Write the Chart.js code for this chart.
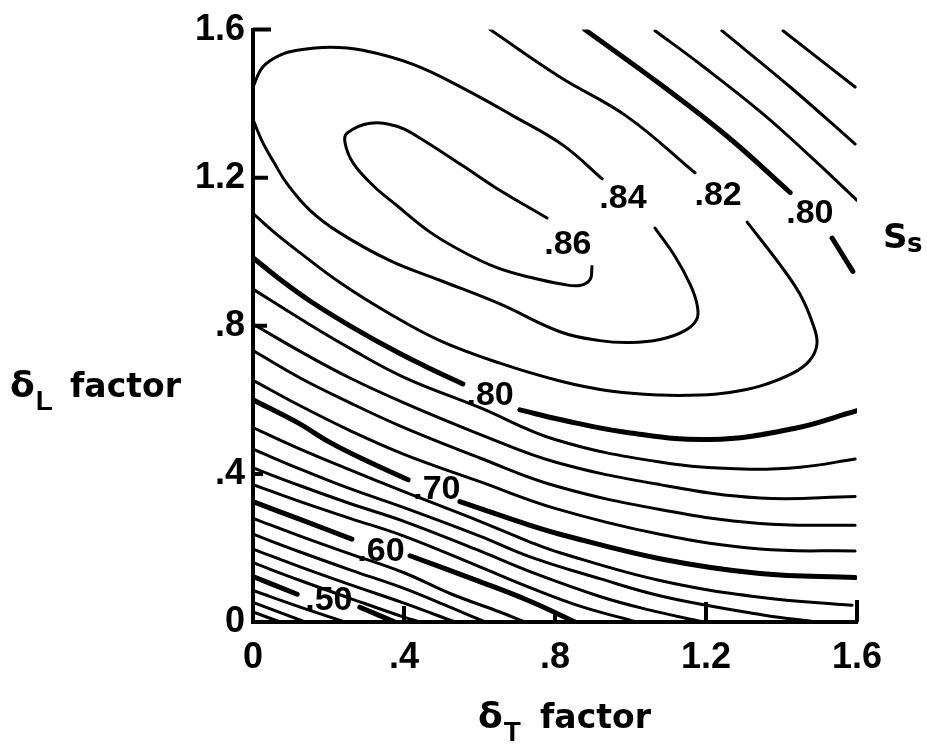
<!DOCTYPE html>
<html>
<head>
<meta charset="utf-8">
<title>Ss contours</title>
<script src="https://cdn.jsdelivr.net/npm/chart.js@4.4.1/dist/chart.umd.min.js"></script>
<style>
  html, body { margin: 0; padding: 0; background: #fff; }
  #wrap { width: 927px; height: 744px; }
</style>
</head>
<body>
<div id="wrap"><canvas id="contourChart" width="927" height="744"></canvas></div>
<script>
// axis ticks
const tickValues = [0, 0.4, 0.8, 1.2, 1.6];
const tickLabels = ["0", ".4", ".8", "1.2", "1.6"];

// contour segments as [deltaT factor, deltaL factor] pairs
const s86 = [[0.779,1.091],[0.646,1.171],[0.556,1.232],[0.434,1.312],[0.381,1.339],[0.310,1.347],[0.249,1.320],[0.244,1.293],[0.265,1.240],[0.318,1.179],[0.381,1.125],[0.469,1.053],[0.556,1.000],[0.646,0.957],[0.734,0.931],[0.821,0.912],[0.866,0.909],[0.893,0.925],[0.898,0.960]];
const s84a = [[0,1.445],[0.026,1.499],[0.072,1.531],[0.117,1.544],[0.204,1.552],[0.291,1.544],[0.424,1.506],[0.556,1.442],[0.689,1.367],[0.821,1.288],[0.925,1.197]];
const s84b = [[0,1.357],[0.024,1.299],[0.058,1.237],[0.090,1.184],[0.151,1.112],[0.230,1.051],[0.363,0.976],[0.495,0.923],[0.654,0.859],[0.813,0.784],[0.919,0.760],[0.999,0.755],[1.078,0.763],[1.144,0.787],[1.176,0.819],[1.176,0.859],[1.158,0.912],[1.118,0.987],[1.065,1.064]];
const s82a = [[0.628,1.600],[0.813,1.472],[0.991,1.365],[1.171,1.213]];
const s82b = [[0,1.104],[0.058,1.051],[0.125,0.997],[0.230,0.917],[0.363,0.832],[0.495,0.760],[0.654,0.699],[0.813,0.651],[0.946,0.624],[1.078,0.613],[1.184,0.613],[1.256,0.619],[1.343,0.637],[1.430,0.672],[1.475,0.707],[1.494,0.752],[1.483,0.805],[1.449,0.885],[1.396,0.965],[1.309,1.080]];
const s80a = [[0.879,1.600],[1.078,1.453],[1.256,1.312],[1.423,1.160]];
const s80b = [[1.534,1.037],[1.589,0.947]];
const s80c = [[0,0.984],[0.072,0.925],[0.151,0.867],[0.257,0.800],[0.389,0.725],[0.495,0.672],[0.556,0.643]];
const s80d = [[0.707,0.573],[0.813,0.547],[0.991,0.512],[1.211,0.493],[1.430,0.522],[1.600,0.571]];
const s78a = [[1.065,1.597],[1.184,1.507],[1.343,1.379],[1.475,1.259],[1.600,1.139]];
const s76a = [[1.242,1.597],[1.423,1.445],[1.595,1.291]];
const s74a = [[1.404,1.597],[1.595,1.445]];
const s78b = [[0,0.899],[0.125,0.819],[0.257,0.739],[0.400,0.661],[0.601,0.579],[0.800,0.493],[1.078,0.432],[1.298,0.413],[1.449,0.418],[1.595,0.440]];
const s76b = [[0,0.805],[0.125,0.731],[0.257,0.659],[0.400,0.592],[0.601,0.507],[0.800,0.432],[1.078,0.371],[1.343,0.335],[1.595,0.339]];
const s74b = [[0,0.733],[0.125,0.659],[0.257,0.592],[0.400,0.525],[0.601,0.443],[0.800,0.368],[1.078,0.304],[1.343,0.266],[1.595,0.261]];
const s72 = [[0,0.653],[0.125,0.584],[0.257,0.517],[0.400,0.453],[0.601,0.379],[0.800,0.307],[1.078,0.237],[1.343,0.197],[1.595,0.192]];
const s70a = [[0,0.600],[0.117,0.539],[0.204,0.485],[0.291,0.440],[0.411,0.384]];
const s70b = [[0.548,0.325],[0.734,0.261],[0.813,0.237],[1.078,0.171],[1.343,0.131],[1.595,0.120]];
const s68 = [[0,0.525],[0.125,0.467],[0.257,0.411],[0.400,0.352],[0.601,0.272],[0.734,0.216],[0.813,0.187],[1.078,0.112],[1.343,0.067],[1.587,0.045]];
const s66 = [[0,0.467],[0.125,0.413],[0.257,0.360],[0.400,0.309],[0.601,0.232],[0.734,0.176],[0.919,0.117],[1.086,0.069],[1.351,0.019],[1.494,0]];
const s64 = [[0,0.416],[0.125,0.368],[0.257,0.320],[0.400,0.272],[0.601,0.192],[0.734,0.136],[0.919,0.069],[1.052,0.032],[1.192,0]];
const s62 = [[0,0.371],[0.125,0.325],[0.257,0.280],[0.400,0.232],[0.601,0.149],[0.734,0.093],[0.866,0.043],[1.017,0]];
const s60a = [[0,0.325],[0.125,0.277],[0.262,0.224]];
const s60b = [[0.416,0.179],[0.601,0.109],[0.734,0.056],[0.853,0]];
const s58 = [[0,0.280],[0.125,0.232],[0.257,0.184],[0.400,0.133],[0.522,0.077],[0.654,0.027],[0.721,0]];
const s56 = [[0,0.237],[0.125,0.189],[0.257,0.141],[0.400,0.091],[0.522,0.040],[0.615,0]];
const s54 = [[0,0.197],[0.125,0.149],[0.257,0.101],[0.400,0.051],[0.535,0]];
const s52 = [[0,0.160],[0.125,0.112],[0.257,0.064],[0.400,0.013],[0.442,0]];
const s50a = [[0,0.123],[0.117,0.075]];
const s50b = [[0.283,0.040],[0.376,0]];
const s48 = [[0,0.085],[0.125,0.040],[0.244,0]];
const s46 = [[0,0.053],[0.138,0]];
const s44 = [[0,0.027],[0.072,0]];

const thinSegments = [s86, s84a, s84b, s82a, s82b, s78a, s76a, s74a, s78b, s76b, s74b, s72, s68, s66, s64, s62, s58, s56, s54, s52, s48, s46, s44];
const thickSegments = [s80a, s80b, s80c, s80d, s70a, s70b, s60a, s60b, s50a, s50b];

// contour labels
const labelText = [".86", ".84", ".82", ".80", ".80", ".70", ".60", ".50"];
const labelX = [0.834, 0.980, 1.232, 1.475, 0.628, 0.487, 0.339, 0.201];
const labelY = [1.019, 1.144, 1.152, 1.104, 0.611, 0.357, 0.189, 0.059];

const FONT = "Liberation Sans, Arial, sans-serif";
const WIDE_FONT = "DejaVu Sans, Verdana, sans-serif";

function toPoints(seg) {
  return seg.map(p => ({ x: p[0], y: p[1] }));
}

const datasets = [];
thinSegments.forEach(seg => datasets.push({ data: toPoints(seg), borderWidth: 3 }));
thickSegments.forEach(seg => datasets.push({ data: toPoints(seg), borderWidth: 5 }));

const decorations = {
  id: "decorations",
  afterDraw(chart) {
    const ctx = chart.ctx;
    const xs = chart.scales.x;
    const ys = chart.scales.y;
    const x0 = xs.getPixelForValue(0);
    const y0 = ys.getPixelForValue(0);
    ctx.save();
    ctx.strokeStyle = "#000";
    ctx.fillStyle = "#000";
    ctx.lineWidth = 4;
    ctx.lineCap = "butt";

    // inward tick stubs
    ctx.beginPath();
    [[0.4, 10], [0.8, 14], [1.2, 15], [1.6, 18]].forEach(([v, len]) => {
      const y = ys.getPixelForValue(v);
      ctx.moveTo(x0, y);
      ctx.lineTo(x0 + len, y);
    });
    [[0.4, 16], [0.8, 10], [1.2, 20], [1.6, 22]].forEach(([v, len]) => {
      const x = xs.getPixelForValue(v);
      ctx.moveTo(x, y0);
      ctx.lineTo(x, y0 - len);
    });
    ctx.stroke();

    // contour labels
    ctx.font = "bold 34px " + FONT;
    ctx.textAlign = "center";
    ctx.textBaseline = "middle";
    labelText.forEach((t, i) => {
      ctx.fillText(t, xs.getPixelForValue(labelX[i]), ys.getPixelForValue(labelY[i]));
    });

    // axis titles with subscripts
    ctx.textAlign = "left";
    ctx.textBaseline = "alphabetic";
    const title = (x, y, sub, restX) => {
      ctx.font = "bold 36px " + WIDE_FONT;
      ctx.fillText("δ", x, y);
      const w = ctx.measureText("δ").width;
      ctx.font = "bold 28px " + FONT;
      ctx.fillText(sub, x + w + 1, y + 13);
      ctx.font = "bold 33px " + WIDE_FONT;
      ctx.fillText("factor", restX, y);
    };
    title(478, 728, "T", 540);
    title(10, 397, "L", 70);
    ctx.font = "bold 34px " + WIDE_FONT;
    ctx.fillText("S", 883, 248);
    ctx.font = "bold 26px " + WIDE_FONT;
    ctx.fillText("s", 907, 252);
    ctx.restore();
  }
};

const axisTicks = {
  min: 0,
  max: 1.6,
  afterBuildTicks: s => { s.ticks = tickValues.map(v => ({ value: v })); },
  grid: { display: false, drawTicks: false },
  border: { display: true, color: "#000", width: 4 }
};

new Chart(document.getElementById("contourChart"), {
  type: "scatter",
  data: { datasets: datasets },
  options: {
    responsive: false,
    animation: false,
    devicePixelRatio: 1,
    layout: { padding: { left: 0, top: 22, right: 70, bottom: 0 } },
    elements: {
      point: { radius: 0 },
      line: { borderColor: "#000", tension: 0.4, borderCapStyle: "round", fill: false }
    },
    datasets: { scatter: { showLine: true, borderColor: "#000" } },
    plugins: { legend: { display: false }, tooltip: { enabled: false } },
    scales: {
      x: Object.assign({}, axisTicks, {
        type: "linear",
        position: "bottom",
        afterFit: s => { s.height = 122; },
        ticks: {
          autoSkip: false, maxRotation: 0, padding: 14, color: "#000",
          font: { family: FONT, size: 36, weight: "bold" },
          callback: (v, i) => tickLabels[i]
        }
      }),
      y: Object.assign({}, axisTicks, {
        type: "linear",
        position: "left",
        afterFit: s => { s.width = 253; },
        ticks: {
          autoSkip: false, padding: 8, color: "#000",
          font: { family: FONT, size: 36, weight: "bold" },
          callback: (v, i) => tickLabels[i]
        }
      })
    }
  },
  plugins: [decorations]
});
</script>
</body>
</html>
